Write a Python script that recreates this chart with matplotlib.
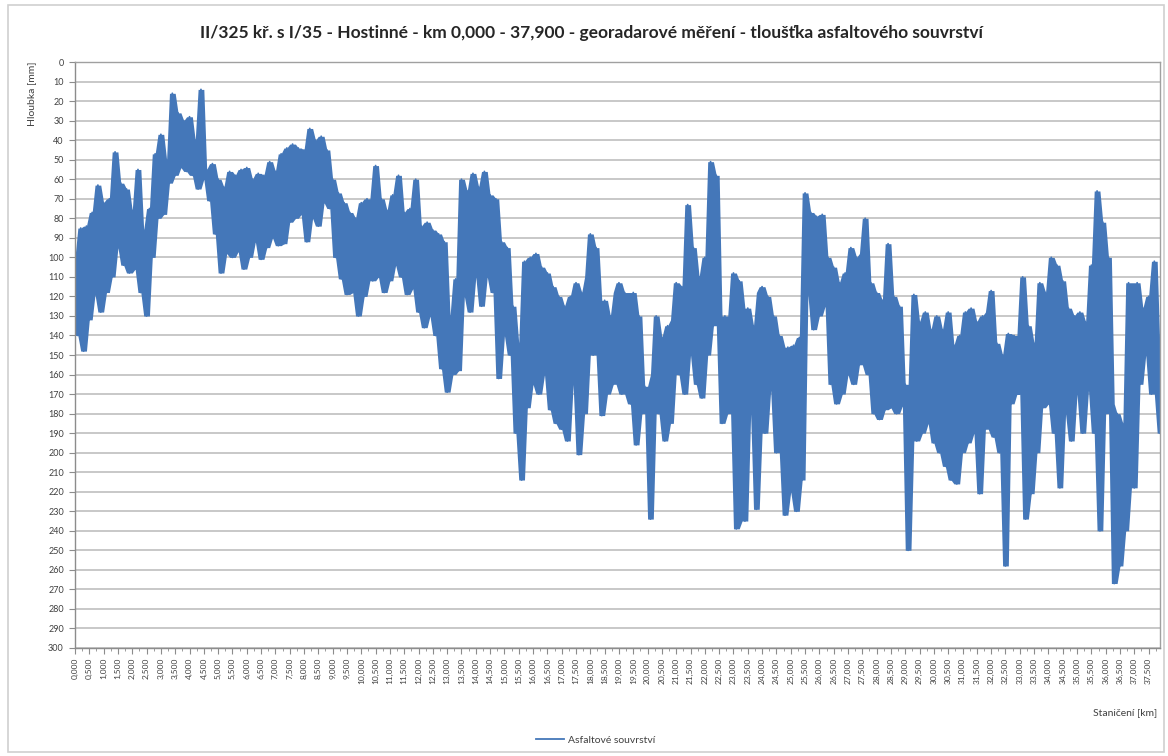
"""Georadar profile: asphalt layer thickness along road II/325."""

import matplotlib

matplotlib.use("Agg")
import matplotlib.pyplot as plt
import numpy as np
import pandas as pd
from matplotlib.patches import Rectangle
from matplotlib.ticker import FixedLocator, MultipleLocator

TITLE = ("II/325 kř. s I/35 - Hostinné - km 0,000 - 37,900 - "
         "georadarové měření - tloušťka asfaltového souvrství")
SERIES_NAME = "Asfaltové souvrství"
Y_TITLE = "Hloubka [mm]"
X_TITLE = "Staničení [km]"

# measurement step along the road [km]
STEP_KM = 0.1

# layer depth [mm], one row per kilometre (10 readings per km)
hloubka = [
    100, 140, 85, 148, 84, 132, 77, 119, 63, 128,     # km 0
    72, 118, 70, 110, 46, 95, 62, 104, 65, 108,       # km 1
    76, 106, 55, 118, 86, 130, 75, 100, 47, 80,       # km 2
    37, 78, 50, 62, 16, 58, 26, 54, 30, 56,           # km 3
    28, 58, 40, 65, 14, 60, 55, 71, 52, 88,           # km 4
    60, 108, 64, 98, 56, 100, 58, 97, 55, 106,        # km 5
    54, 100, 60, 92, 57, 101, 58, 95, 51, 90,         # km 6
    56, 94, 47, 93, 44, 82, 42, 80, 44, 78,           # km 7
    45, 92, 34, 80, 40, 84, 38, 72, 45, 75,           # km 8
    60, 100, 67, 111, 72, 119, 77, 118, 80, 130,      # km 9
    72, 120, 70, 104, 112, 53, 110, 70, 118, 76,      # km 10
    112, 68, 104, 58, 110, 77, 119, 75, 116, 60,      # km 11
    128, 84, 136, 82, 130, 86, 140, 88, 157, 92,      # km 12
    169, 130, 160, 111, 158, 60, 120, 66, 128, 57,    # km 13
    110, 64, 125, 56, 110, 68, 118, 70, 162, 92,      # km 14
    140, 95, 150, 125, 190, 144, 214, 102, 177, 100,  # km 15
    165, 98, 170, 105, 160, 108, 178, 115, 185, 120,  # km 16
    188, 125, 194, 120, 165, 113, 201, 118, 180, 110, # km 17
    88, 150, 95, 140, 181, 122, 170, 130, 165, 118,   # km 18
    113, 170, 118, 160, 175, 118, 196, 130, 180, 166, # km 19
    175, 234, 160, 130, 180, 141, 194, 135, 185, 132, # km 20
    113, 160, 115, 170, 73, 150, 95, 165, 110, 172,   # km 21
    100, 150, 51, 135, 58, 130, 185, 130, 180, 140,   # km 22
    108, 239, 112, 190, 235, 126, 180, 135, 229, 118, # km 23
    115, 190, 120, 168, 130, 200, 140, 195, 232, 146, # km 24
    220, 145, 230, 141, 214, 67, 119, 77, 137, 79,    # km 25
    130, 78, 125, 100, 165, 105, 175, 113, 170, 108,  # km 26
    160, 95, 165, 100, 155, 98, 80, 160, 113, 180,    # km 27
    118, 183, 122, 178, 93, 177, 120, 180, 125, 176,  # km 28
    165, 250, 170, 119, 194, 133, 190, 128, 185, 137, # km 29
    195, 130, 200, 137, 207, 128, 214, 145, 216, 140, # km 30
    200, 128, 195, 126, 190, 133, 221, 130, 188, 128, # km 31
    117, 192, 144, 200, 150, 258, 139, 175, 140, 170, # km 32
    170, 110, 234, 135, 221, 144, 200, 113, 177, 118, # km 33
    175, 100, 190, 104, 218, 112, 180, 126, 194, 130, # km 34
    170, 128, 190, 133, 168, 104, 190, 66, 240, 82,   # km 35
    180, 100, 175, 267, 180, 258, 185, 240, 113, 200, # km 36
    218, 113, 165, 126, 150, 120, 170, 102, 150, 190, # km 37
]

# labelled stations every 0.5 km
stanice_popisky = [k * 0.5 for k in range(76)]

staniceni = np.arange(len(hloubka)) * STEP_KM

# spread between neighbouring readings, shaded so the record reads as a band
okno = pd.Series(hloubka).rolling(3, center=True, min_periods=1)
pas_min = okno.min().to_numpy()
pas_max = okno.max().to_numpy()

LINE_BLUE = "#4477b9"
GRID_GREY = "#c4c4c4"
AXIS_GREY = "#8c8c8c"
TEXT_GREY = "#404040"

plt.rcParams["font.family"] = ["Lato", "DejaVu Sans"]

fig = plt.figure(figsize=(11.68, 7.56), dpi=100)
ax = fig.add_axes([0.0642, 0.1429, 0.929, 0.775])

ax.fill_between(staniceni, pas_min, pas_max, color=LINE_BLUE, linewidth=0)
(line,) = ax.plot(staniceni, hloubka, color=LINE_BLUE, linewidth=1.3,
                  label=SERIES_NAME)

ax.set_xlim(0, 37.9)
ax.set_ylim(300, 0)

ax.yaxis.set_major_locator(MultipleLocator(10))
ax.grid(axis="y", color=GRID_GREY, linewidth=1.3)
ax.set_axisbelow(True)

ax.xaxis.set_major_locator(FixedLocator(stanice_popisky))
ax.xaxis.set_minor_locator(MultipleLocator(0.25))
ax.set_xticklabels([f"{s:.3f}".replace(".", ",") for s in stanice_popisky],
                   rotation=90, fontsize=6, color=TEXT_GREY)
ax.tick_params(axis="y", labelsize=6.5, labelcolor=TEXT_GREY, length=4,
               color=AXIS_GREY, pad=4)
ax.tick_params(axis="x", which="major", length=4, color=AXIS_GREY, pad=3)
ax.tick_params(axis="x", which="minor", length=2, color=AXIS_GREY)

for side in ("left", "bottom"):
    ax.spines[side].set_color(AXIS_GREY)
    ax.spines[side].set_linewidth(1.0)
for side in ("top", "right"):
    ax.spines[side].set_color("#a0a0a0")
    ax.spines[side].set_linewidth(1.0)

fig.text(0.506, 0.957, TITLE, ha="center", va="center", fontsize=12.5,
         fontweight="bold", color="#262626")
fig.text(0.027, 0.918, Y_TITLE, rotation=90, ha="center", va="top",
         fontsize=7.5, color=TEXT_GREY)
fig.text(0.991, 0.058, X_TITLE, ha="right", va="center",
         fontsize=7.5, color=TEXT_GREY)

fig.legend(handles=[line], loc="center", bbox_to_anchor=(0.51, 0.021),
           frameon=False, fontsize=7.5, handlelength=2.7, handletextpad=0.4,
           labelcolor=TEXT_GREY)

# outer chart frame
fig.patches.append(Rectangle((0.007, 0.005), 0.99, 0.988,
                             transform=fig.transFigure, fill=False,
                             edgecolor="#d0d0d0", linewidth=1.2))

fig.savefig("out.png", dpi=100)
